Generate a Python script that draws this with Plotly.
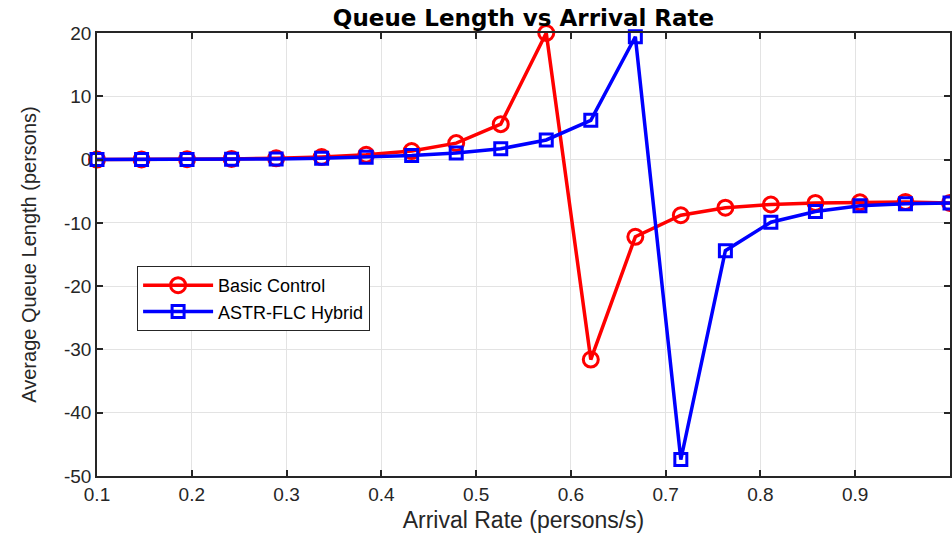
import plotly.graph_objects as go

arrival_rate = [0.1, 0.147, 0.195, 0.242, 0.289, 0.337, 0.384, 0.432, 0.479, 0.526,
                0.574, 0.621, 0.668, 0.716, 0.763, 0.811, 0.858, 0.905, 0.953, 1.0]
basic_control = [0.0, 0.01, 0.05, 0.1, 0.2, 0.4, 0.75, 1.35, 2.6, 5.6,
                 20.0, -31.6, -12.2, -8.8, -7.6, -7.1, -6.85, -6.75, -6.7, -6.85]
astr_flc = [0.0, 0.01, 0.03, 0.06, 0.11, 0.2, 0.38, 0.65, 1.05, 1.7,
            3.1, 6.2, 19.4, -47.4, -14.4, -9.9, -8.2, -7.3, -7.0, -6.85]

x_ticks = [0.1, 0.2, 0.3, 0.4, 0.5, 0.6, 0.7, 0.8, 0.9, 1.0]
x_tick_labels = ["0.1", "0.2", "0.3", "0.4", "0.5", "0.6", "0.7", "0.8", "0.9", "1"]
y_ticks = [-50, -40, -30, -20, -10, 0, 10, 20]
y_tick_labels = ["-50", "-40", "-30", "-20", "-10", "0", "10", "20"]

FONT = "Liberation Sans, Arial, sans-serif"

fig = go.Figure()
fig.add_trace(go.Scatter(
    x=arrival_rate, y=basic_control, name="Basic Control",
    mode="lines+markers", cliponaxis=False,
    line=dict(color="#ff0000", width=3.5),
    marker=dict(symbol="circle-open", size=15, color="#ff0000",
                line=dict(width=3, color="#ff0000")),
))
fig.add_trace(go.Scatter(
    x=arrival_rate, y=astr_flc, name="ASTR-FLC Hybrid",
    mode="lines+markers", cliponaxis=False,
    line=dict(color="#0000ff", width=3.5),
    marker=dict(symbol="square-open", size=12, color="#0000ff",
                line=dict(width=3, color="#0000ff")),
))

axis_common = dict(
    showgrid=True, gridcolor="#e3e3e3", gridwidth=1,
    showline=True, linecolor="#262626", linewidth=1.5, mirror="ticks",
    ticks="inside", ticklen=6, tickwidth=1.5, tickcolor="#262626",
    zeroline=False,
    tickfont=dict(family=FONT, size=19, color="#262626"),
)

fig.update_layout(
    width=952, height=533,
    margin=dict(l=97, r=0, t=33, b=57),
    paper_bgcolor="white", plot_bgcolor="white",
    title=dict(text="<b>Queue Length vs Arrival Rate</b>", x=0.5, xref="paper",
               xanchor="center", y=0.966, yref="container", yanchor="middle",
               font=dict(family="DejaVu Sans, sans-serif", size=23, color="black")),
    xaxis=dict(range=[0.1, 1.0], tickvals=x_ticks, ticktext=x_tick_labels,
               title=dict(text="Arrival Rate (persons/s)", standoff=8,
                          font=dict(family=FONT, size=23, color="#262626")),
               **axis_common),
    yaxis=dict(range=[-50, 20], tickvals=y_ticks, ticktext=y_tick_labels,
               title=dict(text="Average Queue Length (persons)", standoff=22,
                          font=dict(family=FONT, size=20, color="#262626")),
               **axis_common),
    legend=dict(x=0.047, y=0.474, xanchor="left", yanchor="top",
                bgcolor="white", bordercolor="#262626", borderwidth=1,
                font=dict(family=FONT, size=18, color="black"),
                itemwidth=70, tracegroupgap=0),
    showlegend=True,
)

fig.write_html("out.html")
